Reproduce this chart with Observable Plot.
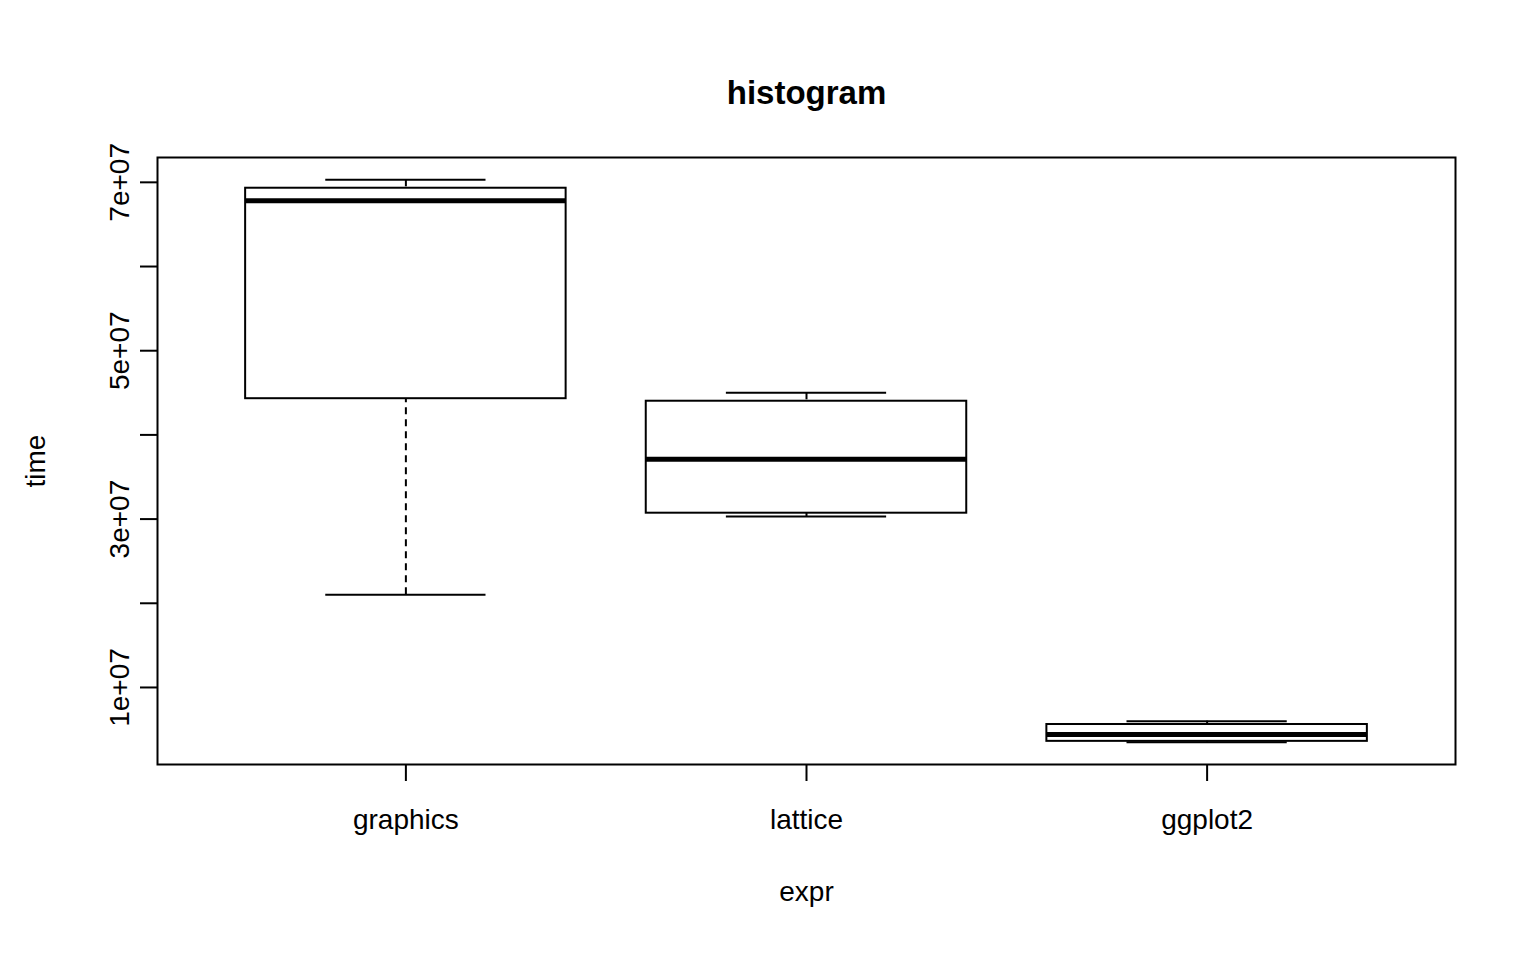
<!DOCTYPE html>
<html>
<head>
<meta charset="utf-8">
<script src="https://cdn.jsdelivr.net/npm/d3@7"></script>
<script src="https://cdn.jsdelivr.net/npm/@observablehq/plot@0.6"></script>
<style>
  body { margin: 0; background: #fff; }
</style>
</head>
<body>
<div id="Chart"></div>
<script>
// boxplot stats
var groups = ["graphics", "lattice", "ggplot2"];
var lowWhisker = [2.10e7, 3.03e7, 0.35e7];
var q1 = [4.43e7, 3.07e7, 0.36e7];
var median = [6.78e7, 3.71e7, 0.44e7];
var q3 = [6.93e7, 4.40e7, 0.56e7];
var highWhisker = [7.03e7, 4.50e7, 0.60e7];
var yTicks = [1e7, 2e7, 3e7, 4e7, 5e7, 6e7, 7e7];
var yLabels = {1e7: "1e+07", 3e7: "3e+07", 5e7: "5e+07", 7e7: "7e+07"};

var data = groups.map((g, i) => ({
  i: i + 1, g: g,
  lo: lowWhisker[i], q1: q1[i], med: median[i], q3: q3[i], hi: highWhisker[i]
}));

var options = {
  width: 1536,
  height: 960,
  marginLeft: 157,
  marginRight: 81,
  marginTop: 157,
  marginBottom: 196,
  style: { fontFamily: "Liberation Sans, Arial, sans-serif", fontSize: "28px", background: "#fff", color: "#000" },
  x: { type: "linear", domain: [0.38, 3.62] },
  y: { domain: [0.085e7, 7.295e7] },
  marks: [
    Plot.frame({ stroke: "#000", strokeWidth: 2 }),
    // dashed whiskers
    Plot.ruleX(data, { x: "i", y1: "hi", y2: "q3", stroke: "#000", strokeWidth: 2, strokeDasharray: "7,5" }),
    Plot.ruleX(data, { x: "i", y1: "lo", y2: "q1", stroke: "#000", strokeWidth: 2, strokeDasharray: "7,5" }),
    // whisker caps
    Plot.ruleY(data, { y: "hi", x1: d => d.i - 0.2, x2: d => d.i + 0.2, stroke: "#000", strokeWidth: 2 }),
    Plot.ruleY(data, { y: "lo", x1: d => d.i - 0.2, x2: d => d.i + 0.2, stroke: "#000", strokeWidth: 2 }),
    // boxes
    Plot.rect(data, { x1: d => d.i - 0.4, x2: d => d.i + 0.4, y1: "q1", y2: "q3", fill: "#fff", stroke: "#000", strokeWidth: 2 }),
    Plot.ruleY(data, { y: "med", x1: d => d.i - 0.4, x2: d => d.i + 0.4, stroke: "#000", strokeWidth: 5 }),
    // axes
    Plot.axisY({
      ticks: yTicks, tickSize: 17, tickPadding: 12, tickRotate: -90,
      tickFormat: d => yLabels[d] || "",
      label: "time", labelAnchor: "center", labelArrow: "none", labelOffset: 132,
      strokeWidth: 2
    }),
    Plot.axisX({
      ticks: [1, 2, 3], tickSize: 17, tickPadding: 28,
      tickFormat: d => groups[d - 1],
      label: "expr", labelAnchor: "center", labelArrow: "none", labelOffset: 136,
      strokeWidth: 2
    }),
    // title
    Plot.text(["histogram"], { frameAnchor: "top", dy: -77, fontSize: 33, fontWeight: "bold", fill: "#000" })
  ]
};

document.getElementById("Chart").append(Plot.plot(options));
</script>
</body>
</html>
